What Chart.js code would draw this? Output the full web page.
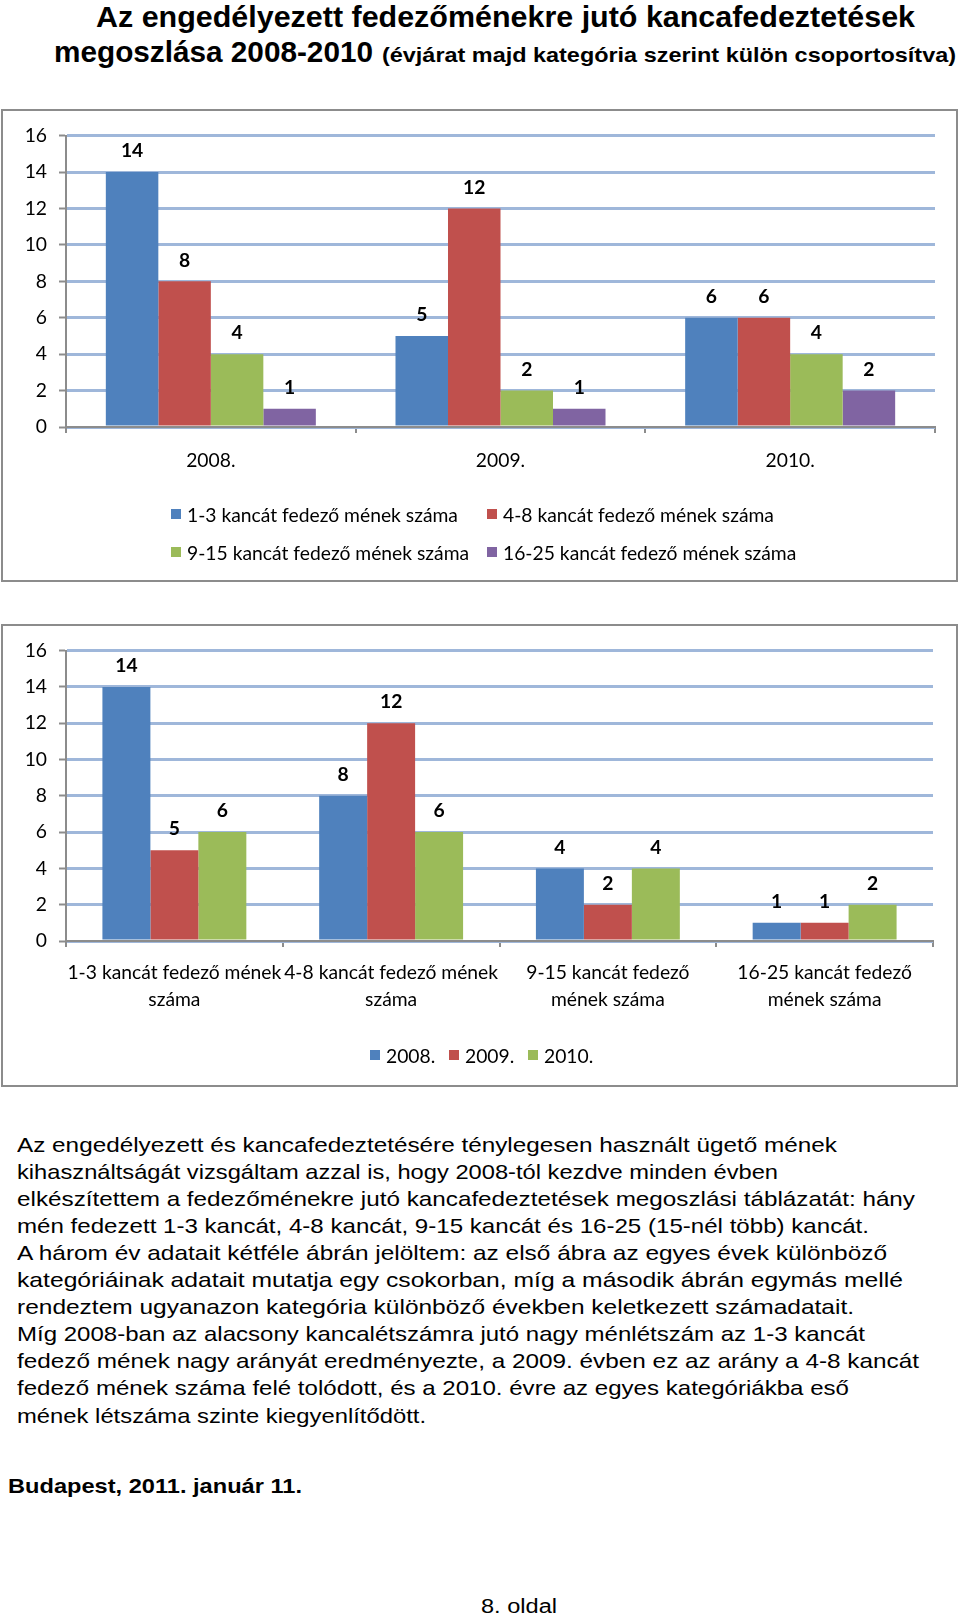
<!DOCTYPE html>
<html><head><meta charset="utf-8">
<script src="https://cdn.jsdelivr.net/npm/chart.js@4.4.0/dist/chart.umd.min.js"></script>
<style>
html,body{margin:0;padding:0;background:#fff;}
body{width:960px;height:1617px;position:relative;overflow:hidden;}
.frame{position:absolute;border:2px solid #8c8c8c;box-sizing:border-box;}
.cv{position:absolute;}
.fit{position:absolute;white-space:nowrap;transform-origin:0 50%;color:#000;}
.lg{position:absolute;font-family:Lato,sans-serif;font-size:19.3px;color:#000;white-space:nowrap;display:flex;align-items:center;}
.lg i{display:inline-block;width:10px;height:10px;margin-right:6px;}
</style></head>
<body>
<div class="frame" style="left:1px;top:109px;width:957px;height:473px;"></div>
<canvas id="c1" class="cv" width="952" height="467" style="left:4px;top:112px;"></canvas>
<div class="frame" style="left:1px;top:624px;width:957px;height:463px;"></div>
<canvas id="c2" class="cv" width="952" height="457" style="left:4px;top:627px;"></canvas>
<script>
// ---- data ----
const years = ['2008.', '2009.', '2010.'];
const categories = ['1-3 kancát fedező mének száma', '4-8 kancát fedező mének száma', '9-15 kancát fedező mének száma', '16-25 kancát fedező mének száma'];
const categoryAxisLabels = [['1-3 kancát fedező mének', 'száma'], ['4-8 kancát fedező mének', 'száma'], ['9-15 kancát fedező', 'mének száma'], ['16-25 kancát fedező', 'mének száma']];
const stallions1to3 = [14, 5, 6];
const stallions4to8 = [8, 12, 6];
const stallions9to15 = [4, 2, 4];
const stallions16to25 = [1, 1, 2];
const yTickValues = [0, 2, 4, 6, 8, 10, 12, 14, 16];
const seriesColors = ['#4F81BD', '#C0504D', '#9BBB59', '#8064A2'];

const byCategory = [stallions1to3, stallions4to8, stallions9to15, stallions16to25];

const FONT = 'Lato, sans-serif';
const FS = 19.3;

const valueLabels = {
  id: 'valueLabels',
  afterDatasetsDraw(chart) {
    const ctx = chart.ctx; ctx.save();
    ctx.font = 'bold ' + FS + 'px ' + FONT; ctx.fillStyle = '#000';
    ctx.textAlign = 'center'; ctx.textBaseline = 'middle';
    chart.data.datasets.forEach((ds, i) => {
      chart.getDatasetMeta(i).data.forEach((bar, j) => {
        ctx.fillText(String(ds.data[j]), bar.x, bar.y - 21);
      });
    });
    ctx.restore();
  }
};

function yScale() {
  return {
    min: 0, max: 16,
    afterBuildTicks(s) { s.ticks = yTickValues.map(v => ({ value: v })); },
    ticks: { font: { family: FONT, size: FS }, color: '#000', padding: 12 },
    grid: { color: '#9FB7DA', lineWidth: 3, tickColor: '#8c8c8c', tickWidth: 2, tickLength: 7 },
    border: { display: true, color: '#8c8c8c', width: 2 },
    afterFit(s) { s.width = 62; }
  };
}
function xScale(h, pad, lh) {
  return {
    ticks: { font: { family: FONT, size: FS, lineHeight: lh }, color: '#000', padding: pad, maxRotation: 0, minRotation: 0, autoSkip: false },
    grid: { drawOnChartArea: false, drawTicks: true, tickLength: 6, color: '#8c8c8c', lineWidth: 2, offset: true },
    border: { display: true, color: '#8c8c8c', width: 2 },
    afterFit(s) { s.height = h; }
  };
}
const baseOpts = (padRight, xs) => ({
  responsive: false, animation: false, devicePixelRatio: 1,
  layout: { padding: { top: 21, right: padRight, left: 0, bottom: 0 } },
  plugins: { legend: { display: false }, tooltip: { enabled: false } },
  scales: { x: xs, y: yScale() }
});

const chart1 = new Chart(document.getElementById('c1'), {
  type: 'bar',
  data: {
    labels: years,
    datasets: categories.map((c, i) => ({ label: c, data: byCategory[i], backgroundColor: seriesColors[i], borderWidth: 0, categoryPercentage: 0.725, barPercentage: 1 }))
  },
  options: baseOpts(21, xScale(152, 16, 1.2)),
  plugins: [valueLabels]
});

const chart2 = new Chart(document.getElementById('c2'), {
  type: 'bar',
  data: {
    labels: categoryAxisLabels,
    datasets: years.map((y, yi) => ({ label: y, data: byCategory.map(arr => arr[yi]), backgroundColor: seriesColors[yi], borderWidth: 0, categoryPercentage: 0.664, barPercentage: 1 }))
  },
  options: baseOpts(23, xScale(143, 13, 1.37)),
  plugins: [valueLabels]
});

// ---- HTML legends built from chart datasets ----
function legendItem(ds, left, cy) {
  const d = document.createElement('div'); d.className = 'lg';
  d.style.left = left + 'px'; d.style.top = (cy - 11) + 'px'; d.style.height = '22px';
  const sq = document.createElement('i'); sq.style.background = ds.backgroundColor;
  d.appendChild(sq); d.appendChild(document.createTextNode(ds.label));
  document.body.appendChild(d); return d;
}
chart1.data.datasets.forEach((ds, i) => legendItem(ds, [171, 487][i % 2], [514, 552][Math.floor(i / 2)]));
let lx = 370;
chart2.data.datasets.forEach(ds => { const d = legendItem(ds, lx, 1055); lx += d.offsetWidth + 14; });

// ---- page text (fitted to width) ----
function place(text, left, right, cy, font, lh) {
  const d = document.createElement('div'); d.className = 'fit';
  d.style.font = font; d.style.lineHeight = lh + 'px'; d.style.height = lh + 'px';
  d.style.left = left + 'px'; d.style.top = (cy - lh / 2) + 'px';
  d.textContent = text; document.body.appendChild(d);
  const w = d.getBoundingClientRect().width;
  if (right !== null) d.style.transform = 'scaleX(' + ((right - left) / w) + ')';
  return d;
}
const TF = '"Liberation Sans", Arial, sans-serif';
place('Az engedélyezett fedezőménekre jutó kancafedeztetések', 96, 915, 17, 'bold 30px ' + TF, 34);
place('megoszlása 2008-2010', 54, 373, 52, 'bold 30px ' + TF, 34);
place('(évjárat majd kategória szerint külön csoportosítva)', 382, 956, 55, 'bold 21px ' + TF, 24);

const bodyLines = [
  'Az engedélyezett és kancafedeztetésére ténylegesen használt ügető mének',
  'kihasználtságát vizsgáltam azzal is, hogy 2008-tól kezdve minden évben',
  'elkészítettem a fedezőménekre jutó kancafedeztetések megoszlási táblázatát: hány',
  'mén fedezett 1-3 kancát, 4-8 kancát, 9-15 kancát és 16-25 (15-nél több) kancát.',
  'A három év adatait kétféle ábrán jelöltem: az első ábra az egyes évek különböző',
  'kategóriáinak adatait mutatja egy csokorban, míg a második ábrán egymás mellé',
  'rendeztem ugyanazon kategória különböző években keletkezett számadatait.',
  'Míg 2008-ban az alacsony kancalétszámra jutó nagy ménlétszám az 1-3 kancát',
  'fedező mének nagy arányát eredményezte, a 2009. évben ez az arány a 4-8 kancát',
  'fedező mének száma felé tolódott, és a 2010. évre az egyes kategóriákba eső',
  'mének létszáma szinte kiegyenlítődött.'
];
const bodyRight = [837, 778, 915, 869, 887, 903, 854, 865, 919, 849, 426];
bodyLines.forEach((t, i) => place(t, 17, bodyRight[i], 1145 + i * 27.05, '21px ' + TF, 24));
place('Budapest, 2011. január 11.', 8, 302, 1486, 'bold 21px ' + TF, 24);
place('8. oldal', 481, 557, 1606, '20px ' + TF, 24);
</script>
</body></html>
